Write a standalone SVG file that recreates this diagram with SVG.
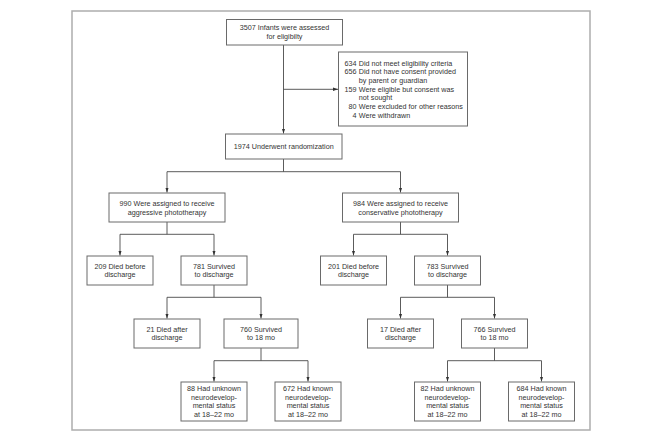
<svg xmlns="http://www.w3.org/2000/svg" width="660" height="440" viewBox="0 0 660 440">
<style>
.frame{fill:none;stroke:#adadad;stroke-width:1.5}
.box{fill:#fff;stroke:#6a6a6a;stroke-width:1}
.ln{fill:none;stroke:#4a4a4a;stroke-width:0.9}
text{font-family:"Liberation Sans",Arial,sans-serif;font-size:7.2px;fill:#333}
.c{text-anchor:middle}
.e{text-anchor:end}
</style>
<defs>
<marker id="ah" markerWidth="6" markerHeight="6" refX="5" refY="3" orient="auto" markerUnits="userSpaceOnUse">
<path d="M0,1.3 L5,3 L0,4.7 Z" fill="#333"/>
</marker>
</defs>
<rect width="660" height="440" fill="#fff"/>
<rect class="frame" x="72" y="11" width="518" height="419"/>

<g id="connectors">
<path class="ln" d="M283.5,45 V133.5" marker-end="url(#ah)"/>
<path class="ln" d="M283.5,89.3 H338" marker-end="url(#ah)"/>
<path class="ln" d="M283.5,159 V171.7 M167,171.7 H400.5"/>
<path class="ln" d="M167,171.7 V192.5" marker-end="url(#ah)"/>
<path class="ln" d="M400.5,171.7 V192.5" marker-end="url(#ah)"/>
<path class="ln" d="M167,222 V234.3 M120,234.3 H214"/>
<path class="ln" d="M120,234.3 V255.5" marker-end="url(#ah)"/>
<path class="ln" d="M214,234.3 V255.5" marker-end="url(#ah)"/>
<path class="ln" d="M400.5,222 V234.3 M353.5,234.3 H447.5"/>
<path class="ln" d="M353.5,234.3 V255.5" marker-end="url(#ah)"/>
<path class="ln" d="M447.5,234.3 V255.5" marker-end="url(#ah)"/>
<path class="ln" d="M214,285 V297.3 M167,297.3 H261"/>
<path class="ln" d="M167,297.3 V318.5" marker-end="url(#ah)"/>
<path class="ln" d="M261,297.3 V318.5" marker-end="url(#ah)"/>
<path class="ln" d="M447.5,285 V297.3 M400.5,297.3 H494.5"/>
<path class="ln" d="M400.5,297.3 V318.5" marker-end="url(#ah)"/>
<path class="ln" d="M494.5,297.3 V318.5" marker-end="url(#ah)"/>
<path class="ln" d="M261,348 V360.7 M214,360.7 H308"/>
<path class="ln" d="M214,360.7 V381.5" marker-end="url(#ah)"/>
<path class="ln" d="M308,360.7 V381.5" marker-end="url(#ah)"/>
<path class="ln" d="M494.5,348 V360.7 M447.5,360.7 H541.5"/>
<path class="ln" d="M447.5,360.7 V381.5" marker-end="url(#ah)"/>
<path class="ln" d="M541.5,360.7 V381.5" marker-end="url(#ah)"/>
</g>

<g id="assessed">
<rect class="box" x="226.5" y="19.5" width="116" height="25.5"/>
<text class="c" x="284.5" y="30.2">3507 Infants were assessed</text>
<text class="c" x="284.5" y="38.9">for eligibilty</text>
</g>

<g id="excluded">
<rect class="box" x="338.5" y="52" width="129" height="74"/>
<text class="e" x="356.5" y="65.6">634</text><text x="358.8" y="65.6">Did not meet eligibility criteria</text>
<text class="e" x="356.5" y="74.3">656</text><text x="358.8" y="74.3">Did not have consent provided</text>
<text x="358.8" y="83">by parent or guardian</text>
<text class="e" x="356.5" y="91.6">159</text><text x="358.8" y="91.6">Were eligible but consent was</text>
<text x="358.8" y="100.4">not sought</text>
<text class="e" x="356.5" y="109.2">80</text><text x="358.8" y="109.2">Were excluded for other reasons</text>
<text class="e" x="356.5" y="117.9">4</text><text x="358.8" y="117.9">Were withdrawn</text>
</g>

<g id="randomized">
<rect class="box" x="225.5" y="134" width="116.5" height="25"/>
<text class="c" x="283.7" y="148.6">1974 Underwent randomization</text>
</g>

<g id="aggressive">
<rect class="box" x="109" y="193" width="116" height="29"/>
<text class="c" x="167" y="205.9">990 Were assigned to receive</text>
<text class="c" x="167" y="214.6">aggressive phototherapy</text>
</g>

<g id="conservative">
<rect class="box" x="342.5" y="193" width="116" height="29"/>
<text class="c" x="400.5" y="205.9">984 Were assigned to receive</text>
<text class="c" x="400.5" y="214.6">conservative phototherapy</text>
</g>

<g id="agg-died-before">
<rect class="box" x="87" y="256" width="66" height="29"/>
<text class="c" x="120" y="268.6">209 Died before</text>
<text class="c" x="120" y="277.4">discharge</text>
</g>

<g id="agg-survived-discharge">
<rect class="box" x="181" y="256" width="66" height="29"/>
<text class="c" x="214" y="268.6">781 Survived</text>
<text class="c" x="214" y="277.4">to discharge</text>
</g>

<g id="con-died-before">
<rect class="box" x="320.5" y="256" width="66" height="29"/>
<text class="c" x="353.5" y="268.6">201 Died before</text>
<text class="c" x="353.5" y="277.4">discharge</text>
</g>

<g id="con-survived-discharge">
<rect class="box" x="414.5" y="256" width="66" height="29"/>
<text class="c" x="447.5" y="268.6">783 Survived</text>
<text class="c" x="447.5" y="277.4">to discharge</text>
</g>

<g id="agg-died-after">
<rect class="box" x="134" y="319" width="66" height="29"/>
<text class="c" x="167" y="331.6">21 Died after</text>
<text class="c" x="167" y="340.4">discharge</text>
</g>

<g id="agg-survived-18">
<rect class="box" x="224" y="319" width="74" height="29"/>
<text class="c" x="261" y="331.6">760 Survived</text>
<text class="c" x="261" y="340.4">to 18 mo</text>
</g>

<g id="con-died-after">
<rect class="box" x="367.5" y="319" width="66" height="29"/>
<text class="c" x="400.5" y="331.6">17 Died after</text>
<text class="c" x="400.5" y="340.4">discharge</text>
</g>

<g id="con-survived-18">
<rect class="box" x="461.5" y="319" width="66" height="29"/>
<text class="c" x="494.5" y="331.6">766 Survived</text>
<text class="c" x="494.5" y="340.4">to 18 mo</text>
</g>

<g id="agg-unknown">
<rect class="box" x="181" y="382" width="66" height="39"/>
<text class="c" x="214" y="390.9">88 Had unknown</text>
<text class="c" x="214" y="399.6">neurodevelop-</text>
<text class="c" x="214" y="408.3">mental status</text>
<text class="c" x="214" y="417.2">at 18–22 mo</text>
</g>

<g id="agg-known">
<rect class="box" x="275" y="382" width="66" height="39"/>
<text class="c" x="308" y="390.9">672 Had known</text>
<text class="c" x="308" y="399.6">neurodevelop-</text>
<text class="c" x="308" y="408.3">mental status</text>
<text class="c" x="308" y="417.2">at 18–22 mo</text>
</g>

<g id="con-unknown">
<rect class="box" x="414.5" y="382" width="66" height="39"/>
<text class="c" x="447.5" y="390.9">82 Had unknown</text>
<text class="c" x="447.5" y="399.6">neurodevelop-</text>
<text class="c" x="447.5" y="408.3">mental status</text>
<text class="c" x="447.5" y="417.2">at 18–22 mo</text>
</g>

<g id="con-known">
<rect class="box" x="508.5" y="382" width="66" height="39"/>
<text class="c" x="541.5" y="390.9">684 Had known</text>
<text class="c" x="541.5" y="399.6">neurodevelop-</text>
<text class="c" x="541.5" y="408.3">mental status</text>
<text class="c" x="541.5" y="417.2">at 18–22 mo</text>
</g>
</svg>
